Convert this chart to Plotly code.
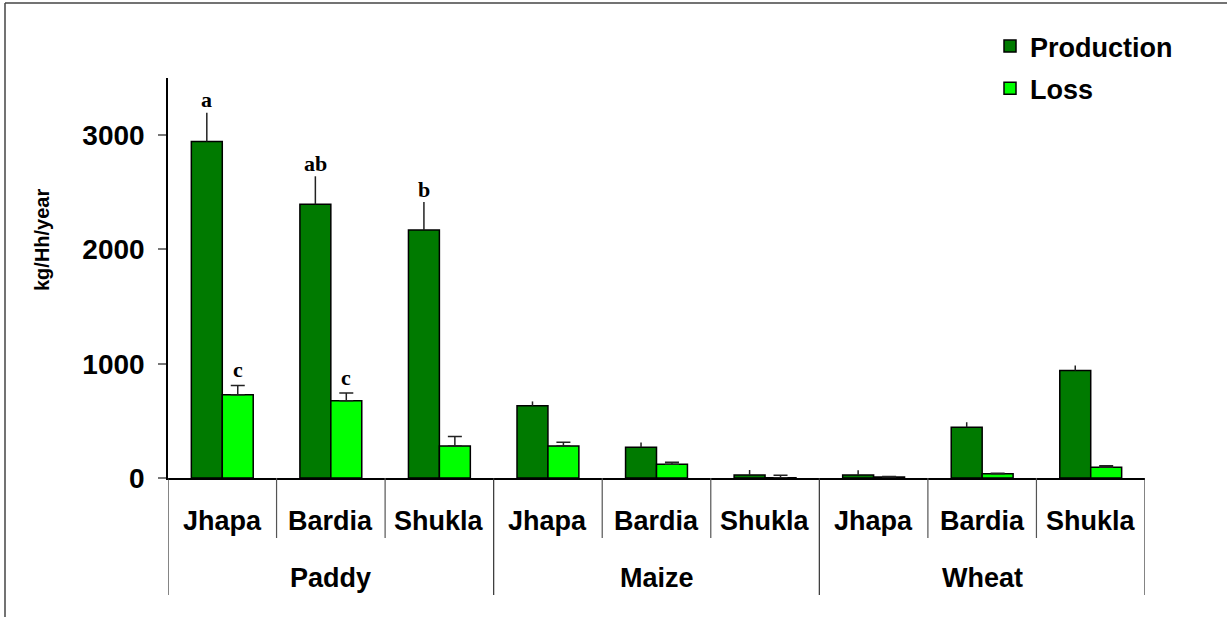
import plotly.graph_objects as go

# ---- data ----
groups = ["Paddy", "Maize", "Wheat"]
sites = ["Jhapa", "Bardia", "Shukla"]
production = [2945, 2395, 2170, 632, 269, 26, 26, 444, 941]
production_err = [250, 245, 245, 38, 41, 44, 41, 44, 44]
loss = [728, 675, 281, 281, 120, 3, 8, 38, 94]
loss_err = [82, 68, 82, 32, 18, 22, 6, 3, 14]
production_letters = ["a", "ab", "b", "", "", "", "", "", ""]
loss_letters = ["c", "c", "", "", "", "", "", "", ""]
y_ticks = [0, 1000, 2000, 3000]

# ---- layout constants ----
W, H = 1227, 617
L, R, T, B = 168, 82, 78, 139
plot_w = W - L - R
plot_h = H - T - B


def px_x(px):
    return (px - L) / plot_w


def px_y(py):
    return (H - B - py) / plot_h


cats = [f"{g}|{s}" for g in groups for s in sites]
n = len(cats)
bargap = 0.43
half = (1 - bargap) / 4  # centre offset of each bar in a pair

FONT = "Liberation Sans, Arial, sans-serif"
SERIF = "Liberation Serif, Times New Roman, serif"

fig = go.Figure()
fig.add_trace(go.Bar(
    x=cats, y=production, name="Production",
    marker=dict(color="#007A00", line=dict(color="black", width=1.5)),
    error_y=dict(type="data", symmetric=False, array=production_err,
                 arrayminus=[0] * n, color="#222222", thickness=1.5, width=0),
    legendgroup="p",
))
fig.add_trace(go.Bar(
    x=cats, y=loss, name="Loss",
    marker=dict(color="#00FF00", line=dict(color="black", width=1.5)),
    error_y=dict(type="data", symmetric=False, array=loss_err,
                 arrayminus=[0] * n, color="#222222", thickness=1.5, width=7),
    legendgroup="l",
))

annotations = []
# significance letters
for i in range(n):
    if production_letters[i]:
        annotations.append(dict(
            x=i - half, y=production[i] + production_err[i], xref="x", yref="y",
            text=production_letters[i], showarrow=False, yanchor="middle", yshift=13,
            font=dict(family=SERIF, size=22, color="black", weight="bold")))
    if loss_letters[i]:
        annotations.append(dict(
            x=i + half, y=loss[i] + loss_err[i], xref="x", yref="y",
            text=loss_letters[i], showarrow=False, yanchor="middle", yshift=16,
            font=dict(family=SERIF, size=22, color="black", weight="bold")))

# category labels
for i, c in enumerate(cats):
    annotations.append(dict(
        x=i, y=px_y(521), xref="x", yref="paper", text=c.split("|")[1],
        showarrow=False, yanchor="middle",
        font=dict(family=FONT, size=27, color="black", weight="bold")))
for gi, g in enumerate(groups):
    annotations.append(dict(
        x=gi * len(sites) + (len(sites) - 1) / 2, y=px_y(578), xref="x", yref="paper",
        text=g, showarrow=False, yanchor="middle",
        font=dict(family=FONT, size=27, color="black", weight="bold")))

# y-axis title
annotations.append(dict(
    x=px_x(42), y=px_y(240), xref="paper", yref="paper", text="kg/Hh/year",
    textangle=-90, showarrow=False, xanchor="center", yanchor="middle",
    font=dict(family=FONT, size=20, color="black", weight="bold")))

shapes = []
# divider lines under the x axis
for k in range(n + 1):
    xpos = k - 0.5
    long_line = (k % len(sites) == 0)
    shapes.append(dict(
        type="line", xref="x", yref="paper", x0=xpos, x1=xpos,
        y0=0, y1=px_y(595) if long_line else px_y(538),
        line=dict(color="#333333" if long_line else "#555555", width=1.2)))
# outer frame (top and left edges visible)
shapes.append(dict(type="line", xref="paper", yref="paper",
                   x0=px_x(5), x1=px_x(1227), y0=px_y(3), y1=px_y(3),
                   line=dict(color="#444444", width=1.5)))
shapes.append(dict(type="line", xref="paper", yref="paper",
                   x0=px_x(5), x1=px_x(5), y0=px_y(3), y1=px_y(617),
                   line=dict(color="#444444", width=1.5)))

fig.update_layout(
    width=W, height=H,
    margin=dict(l=L, r=R, t=T, b=B, autoexpand=False),
    paper_bgcolor="white", plot_bgcolor="white",
    barmode="group", bargap=bargap, bargroupgap=0,
    font=dict(family=FONT, color="black"),
    showlegend=True,
    legend=dict(x=px_x(990), y=px_y(22), xanchor="left", yanchor="top",
                bgcolor="rgba(0,0,0,0)", traceorder="grouped", tracegroupgap=4,
                font=dict(family=FONT, size=27, color="black", weight="bold")),
    xaxis=dict(type="category", range=[-0.5, n - 0.5], showticklabels=False,
               ticks="", showgrid=False, showline=True, linecolor="black",
               linewidth=1.5, zeroline=False, fixedrange=True),
    yaxis=dict(range=[0, 3500], tickvals=y_ticks, ticks="outside", ticklen=8,
               tickcolor="#777777", tickwidth=1.5, showgrid=False, showline=True,
               linecolor="black", linewidth=1.5, zeroline=False,
               ticklabelstandoff=8,
               tickfont=dict(family=FONT, size=28, color="black", weight="bold")),
    annotations=annotations,
    shapes=shapes,
)

fig.write_html("out.html",
               config={"displayModeBar": False},
               post_script="document.body.style.margin='0';document.body.style.overflow='hidden';")
